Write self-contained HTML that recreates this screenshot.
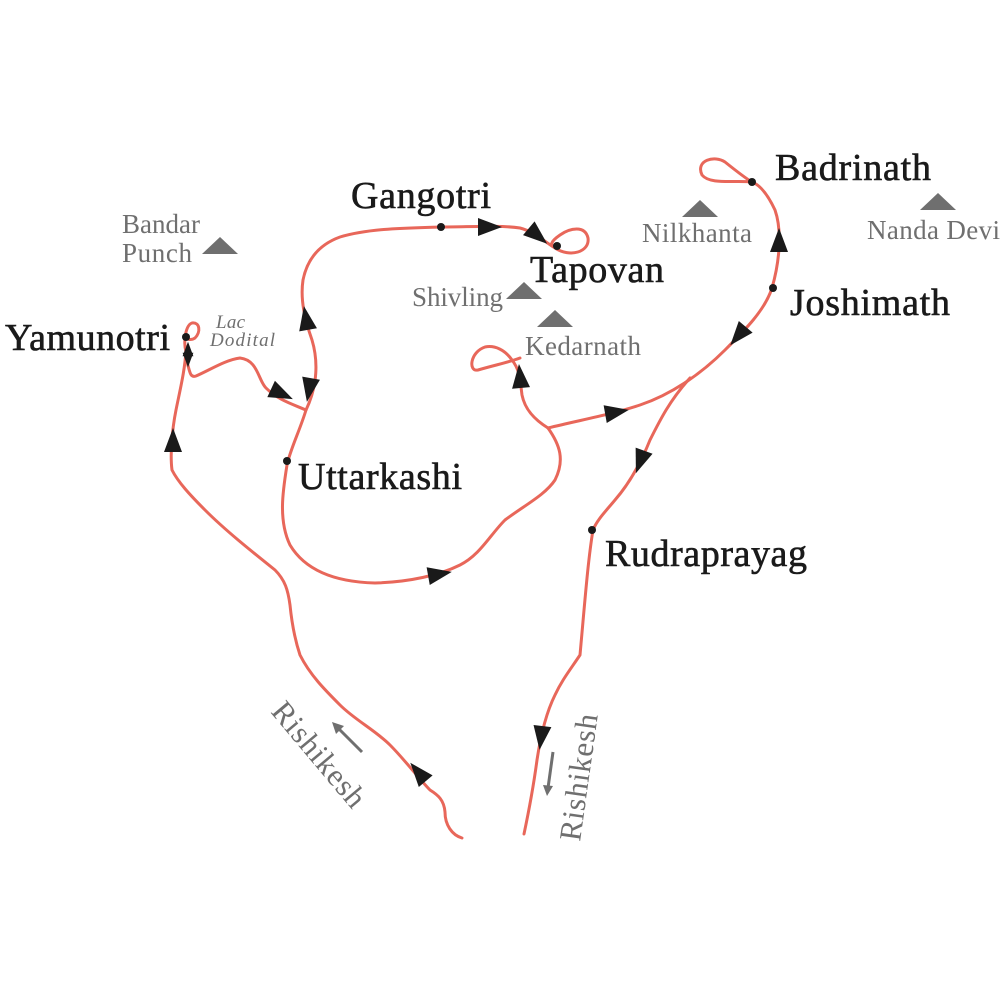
<!DOCTYPE html>
<html><head><style>body{margin:0;background:#fff}svg{display:block}</style></head><body>
<svg width="1000" height="1000" viewBox="0 0 1000 1000" xmlns="http://www.w3.org/2000/svg">
<defs><polygon id="a" points="12,0 -12,-9 -12,9" fill="#1a1a1a"/></defs>
<g fill="none" stroke="#e8675a" stroke-width="3" stroke-linecap="round" stroke-linejoin="round">
<path d="M462,838 C452,835 445,825 445,812 C444,800 438,795 430,790 C420,780 405,760 390,745 C375,730 355,720 340,705 C325,690 310,675 300,655 C295,640 292,625 290,605 C288,590 285,580 275,570 C250,550 225,530 205,510 C190,495 178,482 172,470 C170,455 172,430 176,410 C180,390 185,370 186,350"/>
<path d="M186,352 C183,340 186,325 192,323 C200,322 201,332 195,338 C192,340 188,340 186,338"/>
<path d="M187,362 C190,372 190,378 196,376 C210,370 225,360 240,358 C258,360 258,380 266,388 C278,400 292,404 306,410"/>
<path d="M306,410 C318,385 318,360 312,340 C305,320 300,300 303,280 C307,260 318,245 340,237 C370,228 410,228 440,227 C470,227 500,225 520,228 C535,232 545,242 555,248 C570,258 590,252 588,238 C585,225 570,228 560,235 C550,242 550,245 555,248"/>
<path d="M306,410 C300,430 290,450 287,465 C283,490 278,520 290,545 C305,570 335,582 375,583 C410,582 440,575 460,565 C480,555 490,535 505,520 C525,505 545,495 555,480 C565,460 560,445 548,428"/>
<path d="M548,428 C535,420 525,410 522,395 C520,380 520,370 512,360 C505,350 495,345 485,347 C470,352 468,372 478,370 C495,365 510,362 520,358"/>
<path d="M548,428 C580,420 610,415 640,405 C670,395 700,375 725,350 C745,330 765,310 772,288 C780,260 782,230 775,210 C768,195 760,185 752,182 C735,180 710,185 702,175 C695,160 715,155 725,162 C735,170 745,178 752,182"/>
<path d="M690,378 C670,400 660,420 650,440 C640,465 628,485 615,500 C605,512 597,520 593,530 C588,560 585,600 580,655 C570,670 562,680 555,695 C545,715 540,740 537,760 C533,790 528,815 524,834"/>
</g>
<g fill="#1a1a1a">
<circle cx="186" cy="337" r="4"/><circle cx="441" cy="227" r="4"/><circle cx="557" cy="246" r="4"/>
<circle cx="752" cy="182" r="4"/><circle cx="773" cy="288" r="4"/><circle cx="287" cy="461" r="4"/>
<circle cx="592" cy="530" r="4"/>
</g>
<use href="#a" transform="translate(418,772) rotate(-130)"/>
<use href="#a" transform="translate(173,440) rotate(-90)"/>
<use href="#a" transform="translate(188,349) rotate(-90) scale(0.6)"/>
<use href="#a" transform="translate(188,360) rotate(90) scale(0.6)"/>
<use href="#a" transform="translate(282,394) rotate(25)"/>
<use href="#a" transform="translate(309,390) rotate(100)"/>
<use href="#a" transform="translate(306,318) rotate(-100)"/>
<use href="#a" transform="translate(490,227) rotate(0)"/>
<use href="#a" transform="translate(538,236) rotate(40)"/>
<use href="#a" transform="translate(520,376) rotate(-95)"/>
<use href="#a" transform="translate(617,412) rotate(-10)"/>
<use href="#a" transform="translate(640,462) rotate(110)"/>
<use href="#a" transform="translate(440,574) rotate(-10)"/>
<use href="#a" transform="translate(738,336) rotate(130)"/>
<use href="#a" transform="translate(779,240) rotate(-90)"/>
<use href="#a" transform="translate(541,738) rotate(97)"/>
<g stroke="#6f6f6f" stroke-width="3" fill="#6f6f6f">
<line x1="362" y1="752" x2="338" y2="728"/><polygon points="332,722 344,726 336,734" stroke="none"/>
<line x1="553" y1="752" x2="548" y2="788"/><polygon points="547,796 543,785 553,786" stroke="none"/>
</g>
<g fill="#6f6f6f">
<polygon points="220,237 238,254 202,254"/>
<polygon points="700,200 718,217 682,217"/>
<polygon points="938,193 956,210 920,210"/>
<polygon points="524,282 542,299 506,299"/>
<polygon points="555,310 573,327 537,327"/>
</g>
<g font-family="Liberation Serif, serif" fill="#6f6f6f" font-size="27" lengthAdjust="spacingAndGlyphs">
<text x="122" y="233" textLength="78">Bandar</text><text x="122" y="262" textLength="70">Punch</text>
<text x="642" y="242" textLength="110">Nilkhanta</text><text x="867" y="239" textLength="133">Nanda Devi</text>
<text x="412" y="306" textLength="91">Shivling</text><text x="525" y="355" textLength="116">Kedarnath</text>
<text x="216" y="328" font-size="19" font-style="italic" textLength="29">Lac</text>
<text x="210" y="346" font-size="19" font-style="italic" textLength="65">Dodital</text>
<text transform="translate(270,712) rotate(50)" font-size="31" textLength="128">Rishikesh</text>
<text transform="translate(580,842) rotate(-82)" font-size="31" textLength="128">Rishikesh</text>
</g>
<g font-family="Liberation Serif, serif" fill="#1a1a1a" font-size="38" stroke="#1a1a1a" stroke-width="0.6" lengthAdjust="spacingAndGlyphs">
<text x="351" y="208" textLength="140">Gangotri</text>
<text x="775" y="180" textLength="156">Badrinath</text>
<text x="530" y="282" textLength="134">Tapovan</text>
<text x="790" y="315" textLength="160">Joshimath</text>
<text x="298" y="489" textLength="164">Uttarkashi</text>
<text x="605" y="566" textLength="202">Rudraprayag</text>
<text x="5" y="350" textLength="165">Yamunotri</text>
</g>
</svg>
</body></html>
